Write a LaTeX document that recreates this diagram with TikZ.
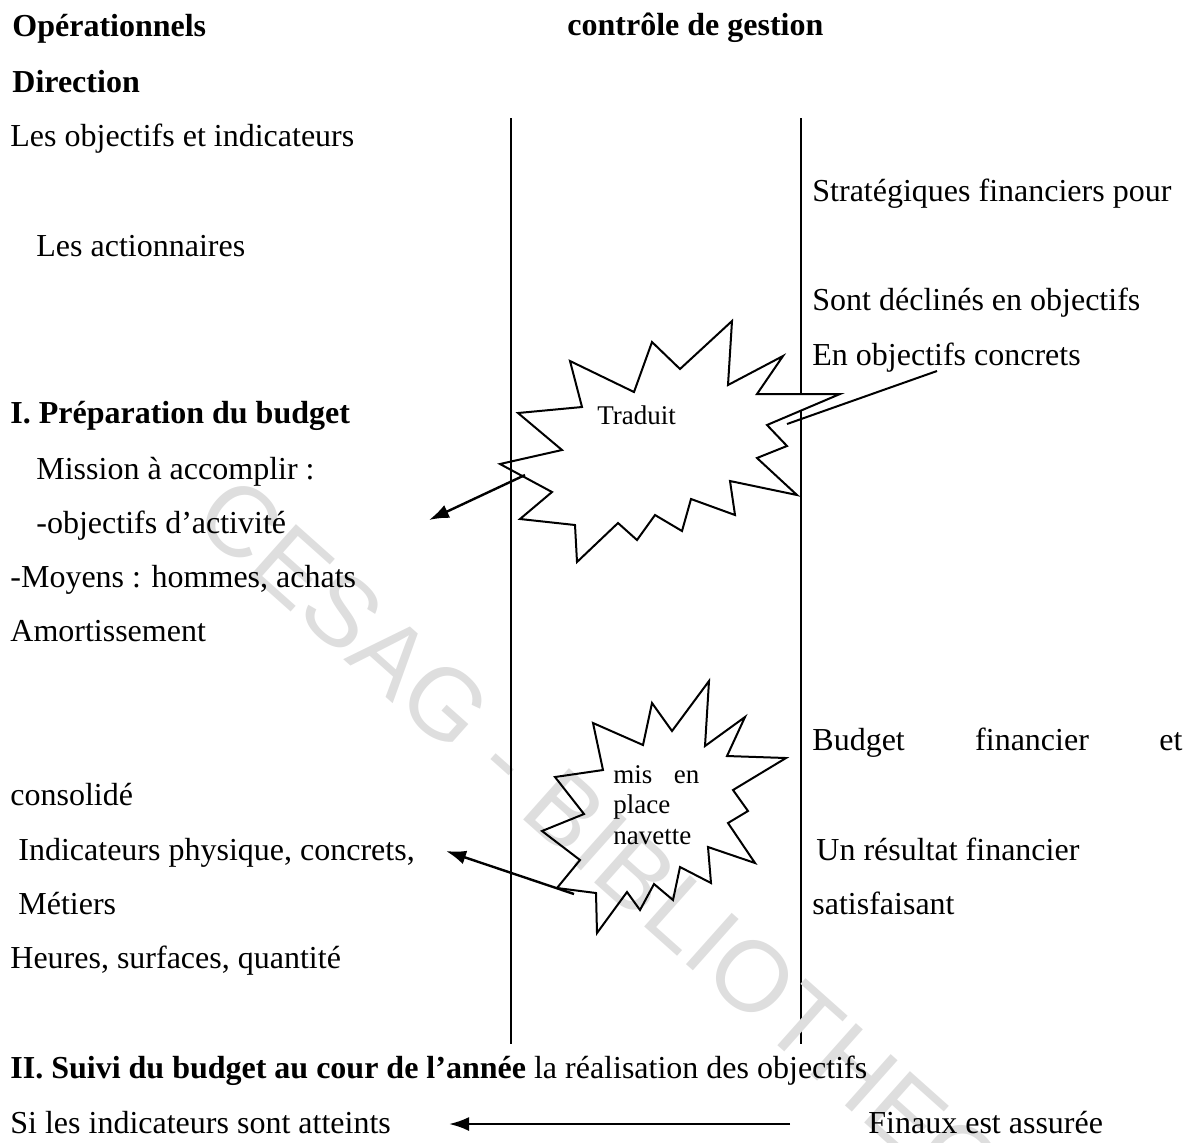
\documentclass[tikz,border=0pt]{standalone}
\usepackage{fontspec}
\setmainfont{Liberation Serif}
\newfontfamily\wmfont{Liberation Sans}
\usetikzlibrary{arrows.meta}
\begin{document}
\begin{tikzpicture}[x=0.5pt,y=-0.5pt,
  txt/.style={anchor=base west, inner sep=0pt, font=\fontsize{16}{19}\selectfont},
  hd/.style={anchor=base west, inner sep=0pt, font=\fontsize{16}{19}\selectfont\bfseries},
  small/.style={anchor=base west, inner sep=0pt, font=\fontsize{13.5}{15}\selectfont},
  burstfill/.style={fill=white},
  burst/.style={draw=black, line width=1pt, line join=miter},
  vline/.style={line width=1pt},
  arr/.style={line width=1.2pt, -{Latex[length=10pt,width=7pt]}},
  lead/.style={line width=1pt}]
\useasboundingbox (0,0) rectangle (1192,1142);
% column lines
\coordinate (L1) at (511,118); \coordinate (L2) at (511,1044);
\coordinate (R1) at (801,118); \coordinate (R2) at (801,1044);
\draw[vline] (R1) -- (R2);
% burst outlines as reusable paths
\def\burstA{(570,361) -- (634,392) -- (652,342) -- (680,369) -- (732,321) -- (728,385)
  -- (783,356) -- (757,394) -- (840,394) -- (767,425) -- (787,446) -- (757,458)
  -- (797,495) -- (730,481) -- (735,515) -- (691,499) -- (682,531) -- (655,515)
  -- (637,540) -- (618,523) -- (577,562) -- (575,525) -- (520,519) -- (552,492)
  -- (500,464) -- (562,450) -- (518,413) -- (582,407) -- cycle}
\def\burstB{(593,723) -- (603,770) -- (555,777) -- (584,814) -- (542,831) -- (580,860)
  -- (557,888) -- (596,893) -- (597,933) -- (627,892) -- (640,910) -- (654,884)
  -- (673,900) -- (680,867) -- (711,883) -- (708,847) -- (755,863) -- (728,823)
  -- (748,811) -- (733,790) -- (786,758) -- (727,756) -- (745,717) -- (705,746)
  -- (709,681) -- (672,731) -- (652,703) -- (643,745) -- cycle}
\fill[burstfill] \burstA;
\fill[burstfill] \burstB;
% watermark
\node[anchor=base west, inner sep=0pt, rotate=-41.7, text=black!13,
  font=\wmfont\fontsize{50}{50}\selectfont] (wm) at (190,522) {CESAG - BIBLIOTHEQUE};
\draw[burst] \burstA;
\draw[burst] \burstB;
\draw[vline] (L1) -- (L2);
% texts
\node[hd] (op) at (12,36) {Opérationnels};
\node[hd] (cg) at (567,35) {contrôle de gestion};
\node[hd] (dir) at (12,92) {Direction};
\node[txt] (t1) at (10,146) {Les objectifs et indicateurs};
\node[txt] (t2) at (812,201) {Stratégiques financiers pour};
\node[txt] (t3) at (36,256) {Les actionnaires};
\node[txt] (t4) at (812,310) {Sont déclinés en objectifs};
\node[txt] (t5) at (812,365) {En objectifs concrets};
\node[hd] (prep) at (10,423) {I. Préparation du budget};
\node[small] (trad) at (597,424) {Traduit};
\node[txt] (t6) at (36,479) {Mission à accomplir :};
\node[txt] (t7) at (36,533) {-objectifs d’activité};
\node[txt] (t8) at (10,587) {-Moyens : hommes, achats};
\node[txt] (t9) at (10,641) {Amortissement};
\node[txt] (t10) at (812,750) {\makebox[185pt][s]{Budget financier et}};
\node[txt] (t11) at (10,805) {consolidé};
\node[small] (nav1) at (613,783) {\makebox[43pt][s]{mis en}};
\node[small] (nav2) at (613,813) {place};
\node[small] (nav3) at (613,844) {navette};
\node[txt] (t12) at (816,860) {Un résultat financier};
\node[txt] (t13) at (18,860) {Indicateurs physique, concrets,};
\node[txt] (t14) at (812,914) {satisfaisant};
\node[txt] (t15) at (18,914) {Métiers};
\node[txt] (t16) at (10,968) {Heures, surfaces, quantité};
\node[txt] (suivi) at (10,1078) {\textbf{II. Suivi du budget au cour de l’année} la réalisation des objectifs};
\node[txt] (si) at (10,1133) {Si les indicateurs sont atteints};
\node[txt] (fin) at (868,1133) {Finaux est assurée};
% connectors
\coordinate (a1s) at (525,475); \coordinate (a1e) at (429,520);
\draw[arr] (a1s) -- (a1e);
\coordinate (l1s) at (937,371); \coordinate (l1e) at (787,424);
\draw[lead] (l1s) -- (l1e);
\coordinate (a2s) at (574,894); \coordinate (a2e) at (446,851);
\draw[arr] (a2s) -- (a2e);
\coordinate (a3s) at (790,1124); \coordinate (a3e) at (449,1124);
\draw[arr] (a3s) -- (a3e);
\end{tikzpicture}
\end{document}
